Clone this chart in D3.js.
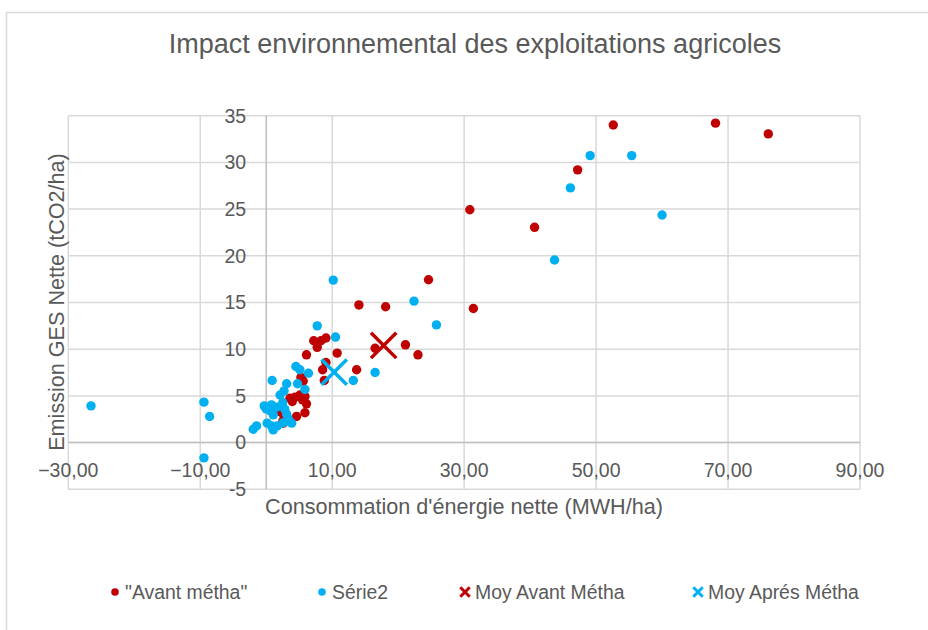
<!DOCTYPE html>
<html>
<head>
<meta charset="utf-8">
<script src="https://cdn.jsdelivr.net/npm/d3@7"></script>
<style>
  body { margin: 0; background: #fff; }
  text { font-family: 'Liberation Sans', Arial, sans-serif; fill: #595959; }
</style>
</head>
<body>
<div id="chart"></div>
<script>
// "Avant métha" [energie, emission]
const avantX = [14.05, 18.1, 24.6, 30.86, 31.4, 40.67, 47.2, 52.6, 68.1, 76.1,
  7.2, 8.3, 9.05, 7.73, 6.1, 10.75, 9.05, 8.55, 13.7, 8.8, 16.5, 21.1, 23.0, 5.6, 5.26,
  3.6, 4.35, 3.95, 5.1, 5.5, 6.1, 2.1, 2.7, 4.6, 5.87, 2.5, 5.87, 2.6]
const avantY = [14.74, 14.55, 17.44, 24.93, 14.36, 23.05, 29.2, 34.0, 34.2, 33.05,
  10.9, 10.9, 11.2, 10.2, 9.4, 9.58, 8.57, 7.8, 7.8, 6.65, 10.1, 10.47, 9.4, 6.6, 7.0,
  4.75, 4.86, 4.4, 5.1, 4.58, 4.15, 3.3, 2.8, 2.8, 3.2, 2.25, 4.93, 2.08]

// Série2
const serie2X = [-26.56, -9.44, -8.58, -9.44,
  10.16, 22.4, 43.7, 46.1, 49.1, 55.4, 60.0, 25.8, 16.5, 13.2, 7.73, 10.5,
  4.5, 5.1, 6.4, 0.9, 4.75, 5.87, 3.1, 2.7, 2.1,
  -0.3, 0, 0.8, 0.55, 1.57, 2.5, 2.8, 1.06, 3.1, 3.33, 2.6, 3.85, 0.15, 0.8, 1.06, 1.67, -1.97, -1.46]
const serie2Y = [3.93, 4.33, 2.79, -1.64,
  17.4, 15.15, 19.55, 27.27, 30.73, 30.73, 24.37, 12.6, 7.5, 6.65, 12.5, 11.3,
  8.15, 7.8, 7.43, 6.65, 6.3, 5.68, 6.3, 5.54, 5.1,
  3.93, 3.6, 4.04, 3.43, 3.79, 4.29, 3.58, 2.97, 3.04, 2.54, 2.14, 2.08, 2.08, 1.79, 1.36, 1.79, 1.43, 1.79]

// averages
const moyAvant = [17.8, 10.4]
const moyApres = [10.3, 7.54]

const xTicks = [-30, -10, 10, 30, 50, 70, 90]
const yTicks = [-5, 0, 5, 10, 15, 20, 25, 30, 35]

const legendLabels = ['"Avant métha"', 'Série2', 'Moy Avant Métha', 'Moy Aprés Métha']

const red = '#c00000'
const blue = '#00b0f0'
const grid = '#d9d9d9'

const width = 928
const height = 630
const plot = { left: 68.3, right: 860, top: 115.7, bottom: 489.3 }

const svg = d3
  .select('#chart')
  .append('svg')
  .attr('width', width)
  .attr('height', height)

// chart frame
svg
  .append('rect')
  .attr('x', 6.5)
  .attr('y', 12.5)
  .attr('width', 1000)
  .attr('height', 1000)
  .attr('fill', 'none')
  .attr('stroke', grid)
  .attr('stroke-width', 1.5)

const x = d3.scaleLinear().domain([-30, 90]).range([plot.left, plot.right])
const y = d3.scaleLinear().domain([-5, 35]).range([plot.bottom, plot.top])

// gridlines
svg
  .append('g')
  .selectAll('line')
  .data(yTicks)
  .enter()
  .append('line')
  .attr('x1', plot.left)
  .attr('x2', plot.right)
  .attr('y1', d => y(d))
  .attr('y2', d => y(d))
  .attr('stroke', grid)
  .attr('stroke-width', 1.5)

svg
  .append('g')
  .selectAll('line')
  .data(xTicks)
  .enter()
  .append('line')
  .attr('x1', d => x(d))
  .attr('x2', d => x(d))
  .attr('y1', plot.top)
  .attr('y2', plot.bottom)
  .attr('stroke', grid)
  .attr('stroke-width', 1.5)

// axes crossing at zero
svg
  .append('line')
  .attr('x1', x(0))
  .attr('x2', x(0))
  .attr('y1', plot.top)
  .attr('y2', plot.bottom)
  .attr('stroke', '#bfbfbf')
  .attr('stroke-width', 1.5)
svg
  .append('line')
  .attr('x1', plot.left)
  .attr('x2', plot.right)
  .attr('y1', y(0))
  .attr('y2', y(0))
  .attr('stroke', '#bfbfbf')
  .attr('stroke-width', 1.5)

// tick labels
const fmt = d => d3.format('.2f')(d).replace('.', ',')

svg
  .append('g')
  .selectAll('text')
  .data(xTicks)
  .enter()
  .append('text')
  .attr('x', d => x(d))
  .attr('y', y(0) + 34)
  .attr('text-anchor', 'middle')
  .attr('font-size', 19.5)
  .text(fmt)

svg
  .append('g')
  .selectAll('text')
  .data(yTicks)
  .enter()
  .append('text')
  .attr('x', x(0) - 20)
  .attr('y', d => y(d))
  .attr('dy', '0.35em')
  .attr('text-anchor', 'end')
  .attr('font-size', 19.5)
  .text(d => d)

// titles
svg
  .append('text')
  .attr('x', 475)
  .attr('y', 53)
  .attr('text-anchor', 'middle')
  .attr('font-size', 27)
  .text('Impact environnemental des exploitations agricoles')

svg
  .append('text')
  .attr('x', 464)
  .attr('y', 514)
  .attr('text-anchor', 'middle')
  .attr('font-size', 21.6)
  .text("Consommation d'énergie nette (MWH/ha)")

svg
  .append('text')
  .attr('transform', 'translate(64,302) rotate(-90)')
  .attr('text-anchor', 'middle')
  .attr('font-size', 21.6)
  .text('Emission GES Nette (tCO2/ha)')

// points
const avant = avantX.map((d, i) => ({ x: d, y: avantY[i] }))
const serie2 = serie2X.map((d, i) => ({ x: d, y: serie2Y[i] }))

svg
  .append('g')
  .selectAll('circle')
  .data(avant)
  .enter()
  .append('circle')
  .attr('cx', d => x(d.x))
  .attr('cy', d => y(d.y))
  .attr('r', 4.7)
  .attr('fill', red)

svg
  .append('g')
  .selectAll('circle')
  .data(serie2)
  .enter()
  .append('circle')
  .attr('cx', d => x(d.x))
  .attr('cy', d => y(d.y))
  .attr('r', 4.7)
  .attr('fill', blue)

// average crosses
const cross = d3.symbol().type(d3.symbolX)

svg
  .append('path')
  .attr('d', cross.size(420)())
  .attr('transform', 'translate(' + x(moyAvant[0]) + ',' + y(moyAvant[1]) + ')')
  .attr('fill', 'none')
  .attr('stroke', red)
  .attr('stroke-width', 3.5)

svg
  .append('path')
  .attr('d', cross.size(420)())
  .attr('transform', 'translate(' + x(moyApres[0]) + ',' + y(moyApres[1]) + ')')
  .attr('fill', 'none')
  .attr('stroke', blue)
  .attr('stroke-width', 3.5)

// legend
const legendX = [115, 322, 465, 698]
const legend = svg
  .append('g')
  .selectAll('g')
  .data(legendLabels)
  .enter()
  .append('g')
  .attr('transform', (d, i) => 'translate(' + legendX[i] + ',592)')

legend
  .filter((d, i) => i < 2)
  .append('circle')
  .attr('r', 3.8)
  .attr('fill', (d, i) => (i === 0 ? red : blue))

legend
  .filter((d, i) => i >= 2)
  .append('path')
  .attr('d', cross.size(60)())
  .attr('fill', 'none')
  .attr('stroke', (d, i) => (i === 0 ? red : blue))
  .attr('stroke-width', 3)

legend
  .append('text')
  .attr('x', 10)
  .attr('dy', '0.35em')
  .attr('font-size', 19.4)
  .text(d => d)
</script>
</body>
</html>
